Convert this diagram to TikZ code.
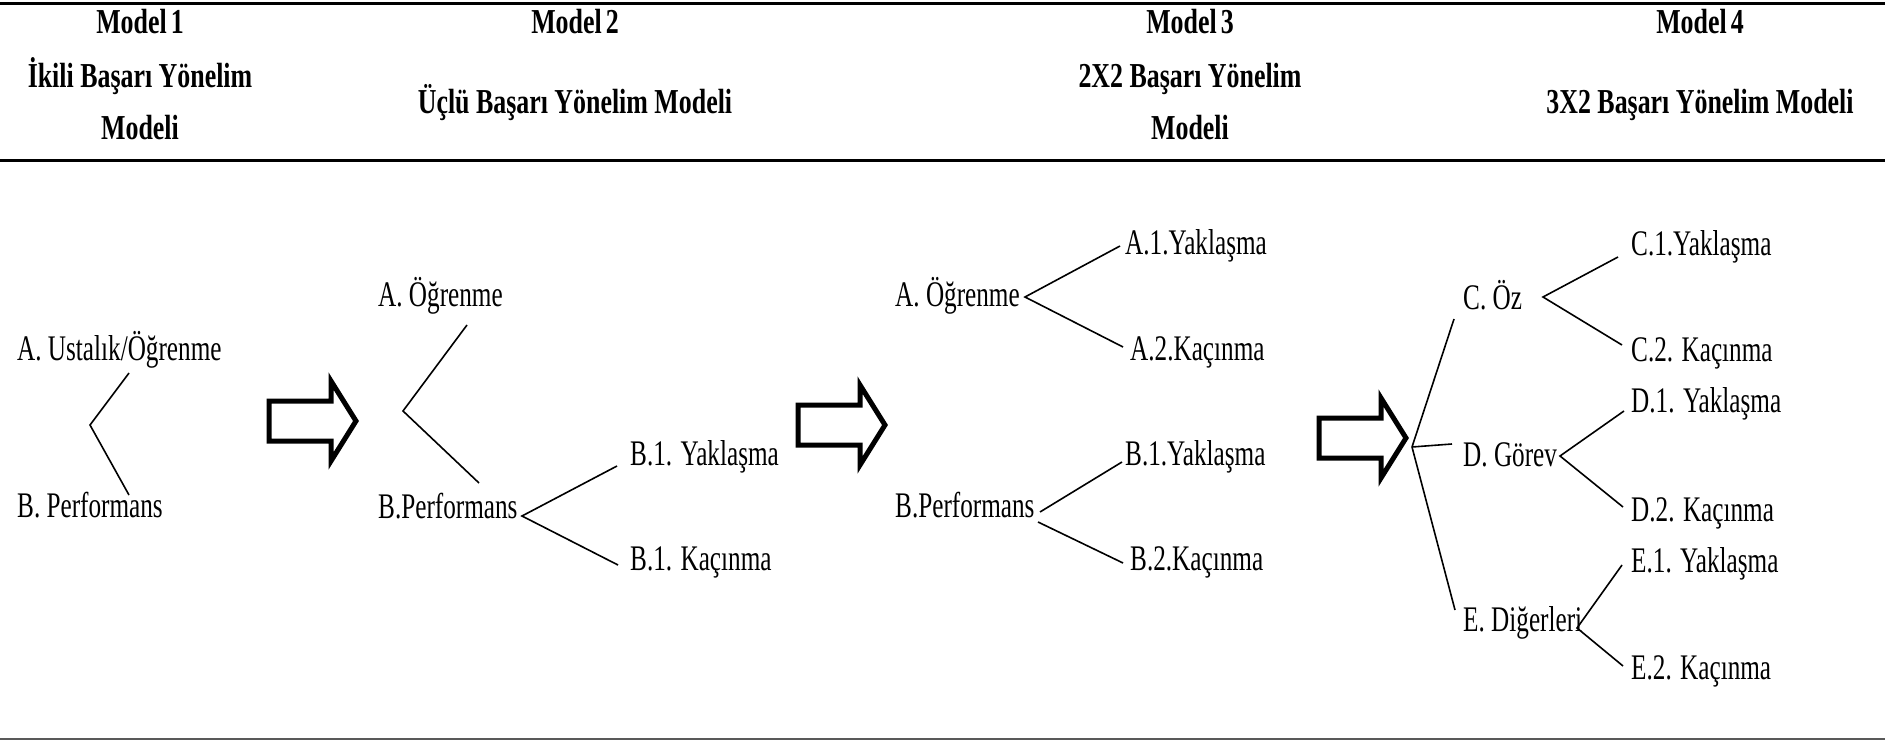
\documentclass[tikz,border=0pt]{standalone}
\usepackage{fontspec}
\setmainfont{Liberation Serif}
\newfontfamily\hdfont{Liberation Serif}[FakeStretch=0.74]
\newfontfamily\bdfont{Liberation Serif}[FakeStretch=0.70]
\newcommand\mdsp{\hspace{4pt}}
\begin{document}
\begin{tikzpicture}[x=1pt,y=-1pt,
  hd/.style={font=\hdfont\bfseries\fontsize{35}{38}\selectfont, inner sep=0pt, anchor=base},
  lbl/.style={font=\bdfont\fontsize{36}{38}\selectfont, inner sep=0pt, anchor=base west},
  ln/.style={line width=1.6pt},
  rule/.style={line width=3pt},
  fatarrow/.pic={\draw[line width=5pt, line join=miter, miter limit=10]
     (-43,-20) -- (19,-20) -- (19,-40) -- (44,0) -- (19,40) -- (19,20) -- (-43,20) -- cycle;}]
\useasboundingbox (0,0) rectangle (1885,743);

% table rules
\draw[rule] (0,4) -- (1885,4);
\draw[rule] (0,161) -- (1885,161);
\draw[line width=2pt, black!65] (0,739) -- (1885,739);

% headers
\node[hd] (h1a) at (140,34) {Model\mdsp1};
\node[hd] (h1b) at (140,88) {İkili Başarı Yönelim};
\node[hd] (h1c) at (140,140) {Modeli};
\node[hd] (h2a) at (575,34) {Model\mdsp2};
\node[hd] (h2b) at (575,114) {Üçlü Başarı Yönelim Modeli};
\node[hd] (h3a) at (1190,34) {Model\mdsp3};
\node[hd] (h3b) at (1190,88) {2X2 Başarı Yönelim};
\node[hd] (h3c) at (1190,140) {Modeli};
\node[hd] (h4a) at (1700,34) {Model\mdsp4};
\node[hd] (h4b) at (1700,114) {3X2 Başarı Yönelim Modeli};

% Model 1
\node[lbl] (m1a) at (17,360) {A. Ustalık/Öğrenme};
\node[lbl] (m1b) at (17,517) {B. Performans};
\coordinate (m1v) at (90,425);
\coordinate (m1t) at (129,373);
\coordinate (m1d) at (129,495);
\draw[ln] (m1t) -- (m1v) -- (m1d);

\pic (ar1) at (312,421) {fatarrow};

% Model 2
\node[lbl] (m2a) at (378,307) {A. Öğrenme};
\node[lbl] (m2b) at (378,518) {B.Performans};
\node[lbl] (m2b1) at (630,465) {B.1. Yaklaşma};
\node[lbl] (m2b2) at (630,570) {B.1. Kaçınma};
\coordinate (m2v) at (403,411);
\coordinate (m2t) at (467,325);
\coordinate (m2d) at (479,483);
\draw[ln] (m2t) -- (m2v) -- (m2d);
\coordinate (m2bv) at (522,516);
\coordinate (m2bt) at (617,466);
\coordinate (m2bd) at (618,565);
\draw[ln] (m2bt) -- (m2bv) -- (m2bd);

\pic (ar2) at (841,425) {fatarrow};

% Model 3
\node[lbl] (m3a) at (895,307) {A. Öğrenme};
\node[lbl] (m3a1) at (1125,255) {A.1.Yaklaşma};
\node[lbl] (m3a2) at (1130,360) {A.2.Kaçınma};
\node[lbl] (m3b) at (895,517) {B.Performans};
\node[lbl] (m3b1) at (1125,465) {B.1.Yaklaşma};
\node[lbl] (m3b2) at (1130,570) {B.2.Kaçınma};
\coordinate (m3av) at (1025,297);
\coordinate (m3at) at (1120,246);
\coordinate (m3ad) at (1123,347);
\draw[ln] (m3at) -- (m3av) -- (m3ad);
\coordinate (m3bv1) at (1040,512);
\coordinate (m3bv2) at (1038,522);
\coordinate (m3bt) at (1122,462);
\coordinate (m3bd) at (1123,563);
\draw[ln] (m3bv1) -- (m3bt);
\draw[ln] (m3bv2) -- (m3bd);

\pic (ar3) at (1362,438) {fatarrow};

% Model 4
\node[lbl] (m4c) at (1463,309) {C. Öz};
\node[lbl] (m4c1) at (1631,256) {C.1.Yaklaşma};
\node[lbl] (m4c2) at (1631,361) {C.2. Kaçınma};
\node[lbl] (m4d) at (1463,466) {D. Görev};
\node[lbl] (m4d1) at (1631,412) {D.1. Yaklaşma};
\node[lbl] (m4d2) at (1631,521) {D.2. Kaçınma};
\node[lbl] (m4e) at (1463,631) {E. Diğerleri};
\node[lbl] (m4e1) at (1631,572) {E.1. Yaklaşma};
\node[lbl] (m4e2) at (1631,679) {E.2. Kaçınma};
\coordinate (m4v) at (1412,447);
\coordinate (m4vc) at (1454,319);
\coordinate (m4vd) at (1452,444);
\coordinate (m4ve) at (1455,610);
\draw[ln] (m4v) -- (m4vc);
\draw[ln] (m4v) -- (m4vd);
\draw[ln] (m4v) -- (m4ve);
\coordinate (m4cv) at (1543,297);
\coordinate (m4ct) at (1618,257);
\coordinate (m4cd) at (1622,345);
\draw[ln] (m4ct) -- (m4cv) -- (m4cd);
\coordinate (m4dv) at (1560,456);
\coordinate (m4dt) at (1624,411);
\coordinate (m4dd) at (1623,507);
\draw[ln] (m4dt) -- (m4dv) -- (m4dd);
\coordinate (m4ev) at (1577,628);
\coordinate (m4et) at (1622,565);
\coordinate (m4ed) at (1623,666);
\draw[ln] (m4et) -- (m4ev) -- (m4ed);
\end{tikzpicture}
\end{document}
